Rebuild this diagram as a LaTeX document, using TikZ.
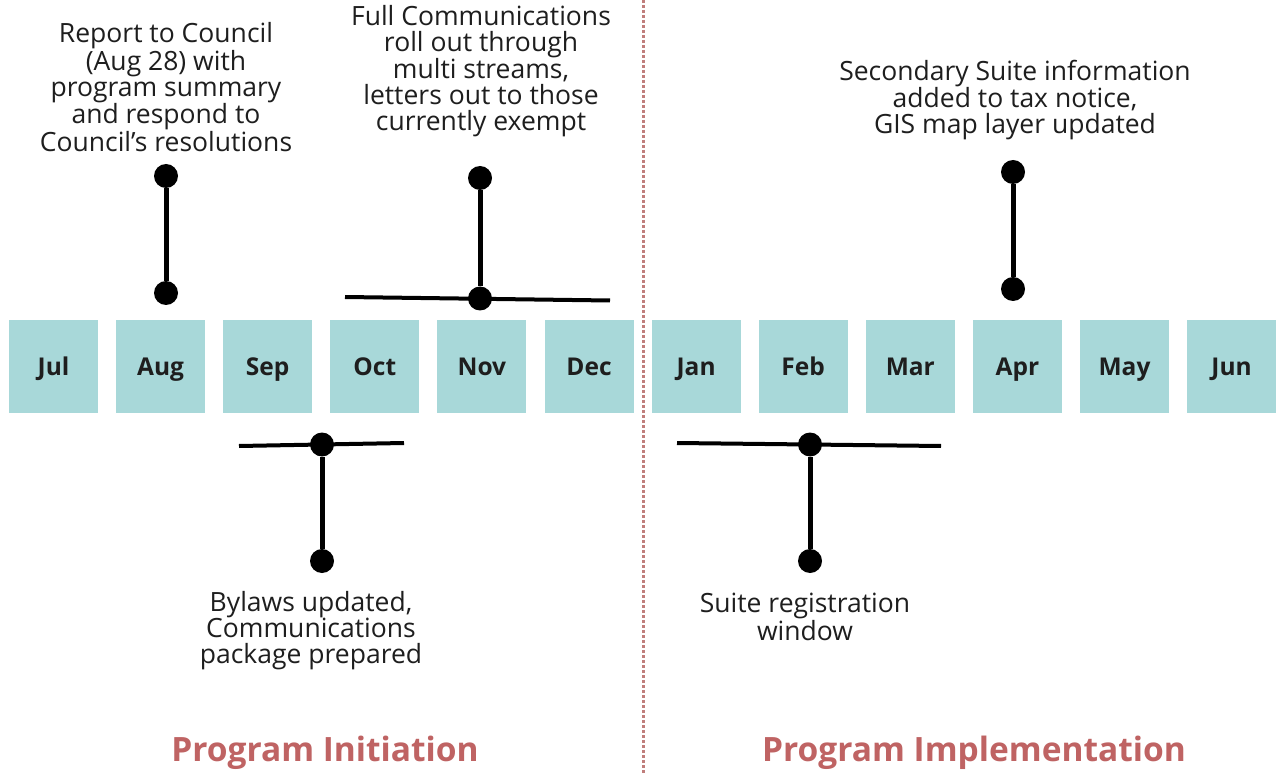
\documentclass[tikz,border=0pt]{standalone}
\usepackage{fontspec}
\setmainfont{Open Sans}
\definecolor{boxteal}{HTML}{A8D8D9}
\definecolor{phasered}{HTML}{BF6363}
\definecolor{sepred}{HTML}{C07E7C}
\definecolor{inkgray}{HTML}{1E1E1E}
\begin{document}
\begin{tikzpicture}[x=1pt,y=-1pt,
  month/.style={fill=boxteal, draw=none, minimum width=89pt, minimum height=93pt, inner sep=0pt,
    text height=21pt, text depth=4pt,
    font=\bfseries\fontsize{24.5}{28}\selectfont, text=inkgray},
  dot/.style={circle, fill=black, minimum size=24pt, inner sep=0pt},
  stem/.style={line width=5pt, black},
  bar/.style={line width=4pt, black},
  note/.style={align=center, inner sep=0pt, font=\fontsize{26.5}{26}\selectfont, text=inkgray},
  phase/.style={inner sep=0pt, font=\bfseries\fontsize{33.5}{36}\selectfont, text=phasered},
  divider/.style={sepred, line width=3pt, dash pattern=on 2.8pt off 2.2pt}
]
\useasboundingbox (0,0) rectangle (1276,775);
\fill[white] (0,0) rectangle (1276,775);

% divider
\coordinate (divtop) at (643,0);
\coordinate (divbot) at (643,775);
\draw[divider] (divtop) -- (divbot);

% months
\foreach \m [count=\i from 0] in {Jul,Aug,Sep,Oct,Nov,Dec,Jan,Feb,Mar,Apr,May,Jun} {
  \node[month] (\m) at ({53.5+107.1*\i},366.5) {\m};
}

% Aug milestone
\node[dot] (augtop) at (166,176) {};
\node[dot] (augbot) at (166,293) {};
\draw[stem] (augtop) -- (augbot);
\node[note] (augtxt) at (166,87) {Report to Council\\(Aug 28) with\\program summary\\and respond to\\Council\char"27 s resolutions};

% Nov milestone
\coordinate (novL) at (345,297);
\coordinate (novR) at (610,300.5);
\draw[bar] (novL) -- (novR);
\node[dot] (novtop) at (480,178) {};
\node[dot] (novbot) at (480,298.5) {};
\draw[stem] (novtop) -- (novbot);
\node[note] (novtxt) at (481,71) {Full Communications\\roll out through\\multi streams,\\letters out to those\\currently exempt};

% Sep milestone
\coordinate (sepL) at (239,446);
\coordinate (sepR) at (404,443);
\draw[bar] (sepL) -- (sepR);
\node[dot] (septop) at (322,444.5) {};
\node[dot] (sepbot) at (322,561) {};
\draw[stem] (septop) -- (sepbot);
\node[note] (septxt) at (311,631) {Bylaws updated,\\Communications\\package prepared};

% Feb milestone
\coordinate (febL) at (677,443);
\coordinate (febR) at (941,446);
\draw[bar] (febL) -- (febR);
\node[dot] (febtop) at (810,444.5) {};
\node[dot] (febbot) at (810,561) {};
\draw[stem] (febtop) -- (febbot);
\node[note] (febtxt) at (805,617) {Suite registration\\window};

% Apr milestone
\node[dot] (aprtop) at (1013,172) {};
\node[dot] (aprbot) at (1013,289) {};
\draw[stem] (aprtop) -- (aprbot);
\node[note] (aprtxt) at (1015,100) {Secondary Suite information\\added to tax notice,\\GIS map layer updated};

% phases
\node[phase] (init) at (325,753) {Program Initiation};
\node[phase] (impl) at (974,753) {Program Implementation};
\end{tikzpicture}
\end{document}
